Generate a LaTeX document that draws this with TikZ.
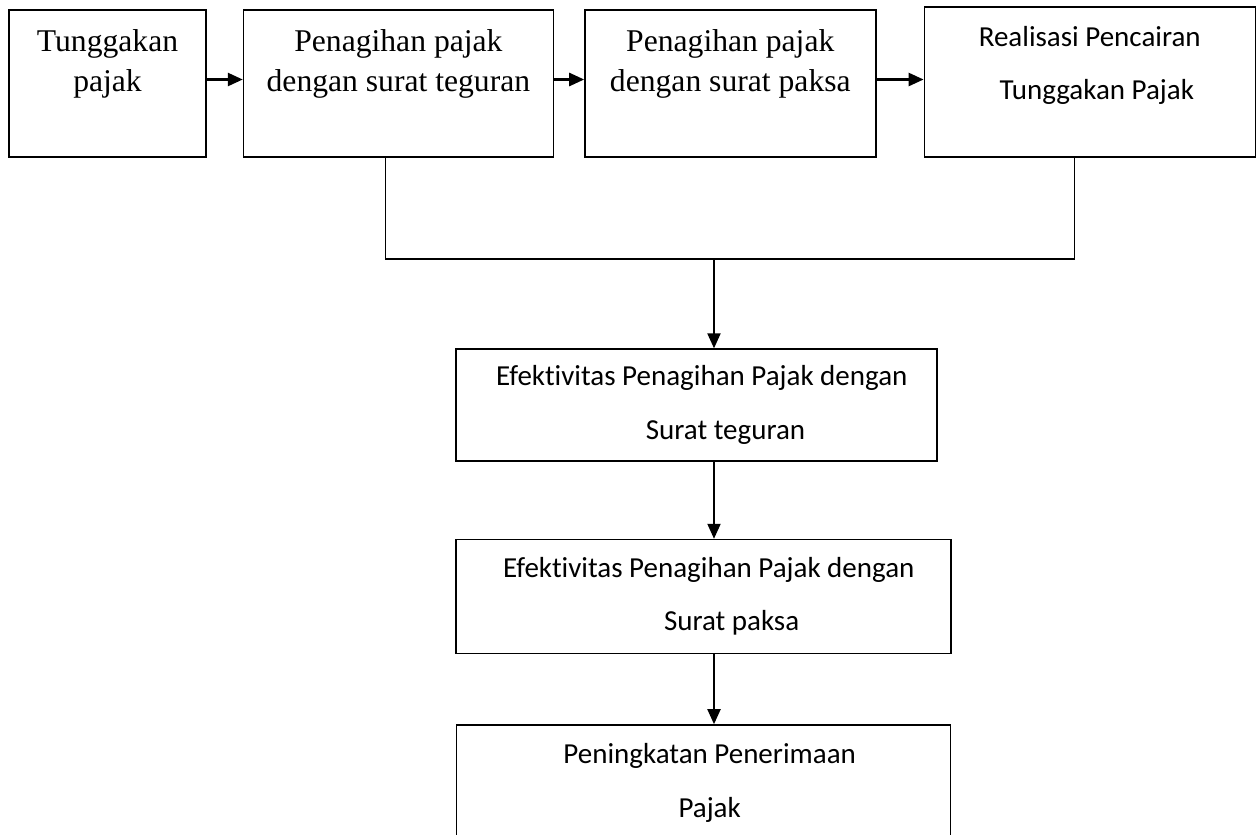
\documentclass[tikz,border=0pt]{standalone}
\usepackage{fontspec}
\setmainfont{Liberation Serif}
\newfontfamily\calibri[Ligatures=NoCommon]{Carlito}
\usepackage{tikz}
\usetikzlibrary{arrows.meta,positioning}

\begin{document}
\begin{tikzpicture}
    % Styles
    \tikzstyle{box} = [rectangle, draw, line width=0.8pt, inner sep=0pt, minimum height=2.94cm]
    \tikzstyle{lowbox} = [rectangle, draw, line width=0.8pt, inner sep=0pt, align=center, font=\calibri\fontsize{16.5pt}{30.5pt}\selectfont]
    \tikzstyle{serif} = [inner sep=0pt, align=center, font=\fontsize{18pt}{22.8pt}\selectfont]
    \tikzstyle{sans} = [inner sep=0pt, align=center, font=\calibri\fontsize{16.5pt}{30.5pt}\selectfont]
    \tikzstyle{arrow} = [line width=0.8pt, -{Triangle[length=8.5pt, width=7.5pt]}]
    \tikzstyle{link} = [line width=0.8pt]

    \useasboundingbox (0,0) rectangle (25.14,-16.68);
    \clip (0,0) rectangle (25.14,-16.68);

    % Nodes
    \node [box, minimum width=3.94cm] (tunggakan) at (2.15,-1.67) {};
    \node [box, minimum width=6.2cm, right=0.72cm of tunggakan] (teguran) {};
    \node [box, minimum width=5.82cm, right=0.6cm of teguran] (paksa) {};
    \node [box, minimum width=6.62cm, minimum height=3cm, right=0.94cm of paksa.south east, anchor=south west] (realisasi) {};

    \node [serif, below=0.4cm of tunggakan.north] (tunggakanText) {Tunggakan\\pajak};
    \node [serif, below=0.4cm of teguran.north] (teguranText) {Penagihan pajak\\dengan surat teguran};
    \node [serif, below=0.4cm of paksa.north] (paksaText) {Penagihan pajak\\dengan surat paksa};
    \node [sans, below=0.39cm of realisasi.north] (realisasiText) {Realisasi Pencairan\\\hspace*{8pt}Tunggakan Pajak};

    \node [lowbox, minimum width=9.62cm, minimum height=2.24cm] (efekTeguran) at (13.93,-8.10) {\hspace*{6pt}Efektivitas Penagihan Pajak dengan\\\hspace*{33pt}Surat teguran};
    \node [lowbox, minimum width=9.9cm, minimum height=2.28cm, below=1.54cm of efekTeguran, xshift=0.14cm] (efekPaksa) {\hspace*{6pt}Efektivitas Penagihan Pajak dengan\\\hspace*{32pt}Surat paksa};
    \node [lowbox, minimum width=9.88cm, minimum height=2.32cm, below=1.4cm of efekPaksa] (peningkatan) {\hspace*{7pt}Peningkatan Penerimaan\\\hspace*{7pt}Pajak};

    % Connection
    \coordinate (joinL) at ([xshift=-0.26cm]teguran.south);
    \coordinate (joinR) at ([xshift=-0.31cm]realisasi.south);
    \coordinate (drop) at (14.28,-5.18);

    \draw [arrow, line width=1.2pt] ([yshift=0.08cm]tunggakan.east) -- ([yshift=0.08cm]tunggakan.east -| teguran.west);
    \draw [arrow, line width=1.2pt] ([yshift=0.08cm]teguran.east) -- ([yshift=0.08cm]teguran.east -| paksa.west);
    \draw [arrow, line width=1.2pt] ([yshift=0.08cm]paksa.east) -- ([yshift=0.08cm]paksa.east -| realisasi.west);

    \draw [link] (joinL) |- (drop) -| (joinR);
    \draw [arrow] (drop) -- (efekTeguran.north -| drop);
    \draw [arrow] (efekTeguran.south -| drop) -- (efekPaksa.north -| drop);
    \draw [arrow] (efekPaksa.south -| drop) -- (peningkatan.north -| drop);
\end{tikzpicture}
\end{document}
